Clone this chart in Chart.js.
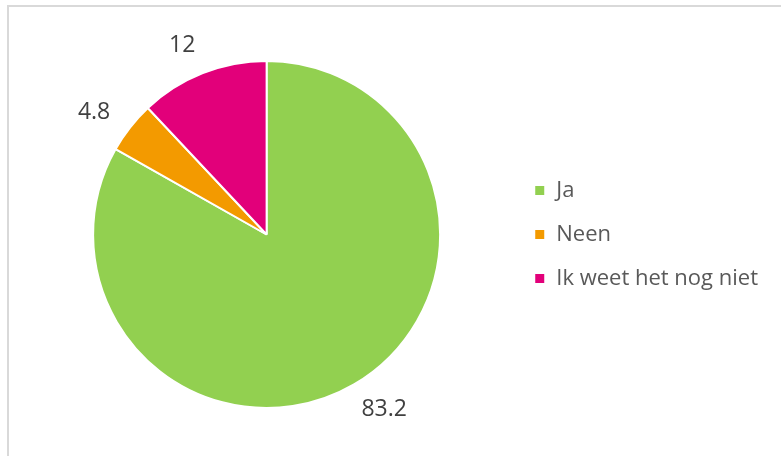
<!DOCTYPE html>
<html>
<head>
<meta charset="utf-8">
<script src="https://cdn.jsdelivr.net/npm/chart.js@4"></script>
<style>
  html, body { margin: 0; padding: 0; background: #fff; }
  #wrap { position: relative; width: 781px; height: 456px; overflow: hidden; }
  #frame { position: absolute; left: 7px; top: 5px; width: 800px; height: 500px; border: 2px solid #d9d9d9; box-sizing: border-box; }
  #chart { position: absolute; left: 0; top: 0; }
</style>
</head>
<body>
<div id="wrap">
  <div id="frame"></div>
  <canvas id="chart" width="781" height="456"></canvas>
</div>
<script>
// === Data ===
const labels = ['Ja', 'Neen', 'Ik weet het nog niet'];
const values = [83.2, 4.8, 12];
const valueLabels = ['83.2', '4.8', '12'];
const colors = ['#92d050', '#f39a00', '#e2007a'];

const FONT = '"Open Sans", sans-serif';

// labels outside each slice, anchored at the outer edge
const outsideLabels = {
  id: 'outsideLabels',
  afterDatasetsDraw(chart) {
    const { ctx } = chart;
    const meta = chart.getDatasetMeta(0);
    ctx.save();
    ctx.font = '23px ' + FONT;
    ctx.fillStyle = '#404040';
    ctx.textAlign = 'center';
    ctx.textBaseline = 'middle';
    meta.data.forEach((arc, i) => {
      const { x, y, startAngle, endAngle, outerRadius } = arc.getProps(['x', 'y', 'startAngle', 'endAngle', 'outerRadius'], true);
      const mid = (startAngle + endAngle) / 2 - 0.035;
      const cos = Math.cos(mid), sin = Math.sin(mid);
      const dist = outerRadius + 24;
      const txt = valueLabels[i];
      const w = ctx.measureText(txt).width;
      const h = 18;
      ctx.fillText(txt, x + cos * (dist + w / 2), y + sin * (dist + h / 2));
    });
    ctx.restore();
  }
};

new Chart(document.getElementById('chart'), {
  type: 'pie',
  data: {
    labels: labels,
    datasets: [{
      data: values,
      backgroundColor: colors,
      borderColor: '#ffffff',
      borderWidth: 2
    }]
  },
  options: {
    responsive: false,
    animation: false,
    events: [],
    layout: { padding: { top: 60, bottom: 47, left: 21, right: 13 } },
    plugins: {
      tooltip: { enabled: false },
      legend: {
        position: 'right',
        labels: {
          boxWidth: 11,
          boxHeight: 11,
          padding: 22,
          color: '#595959',
          font: { family: FONT, size: 22 }
        }
      }
    }
  },
  plugins: [outsideLabels]
});
</script>
</body>
</html>
